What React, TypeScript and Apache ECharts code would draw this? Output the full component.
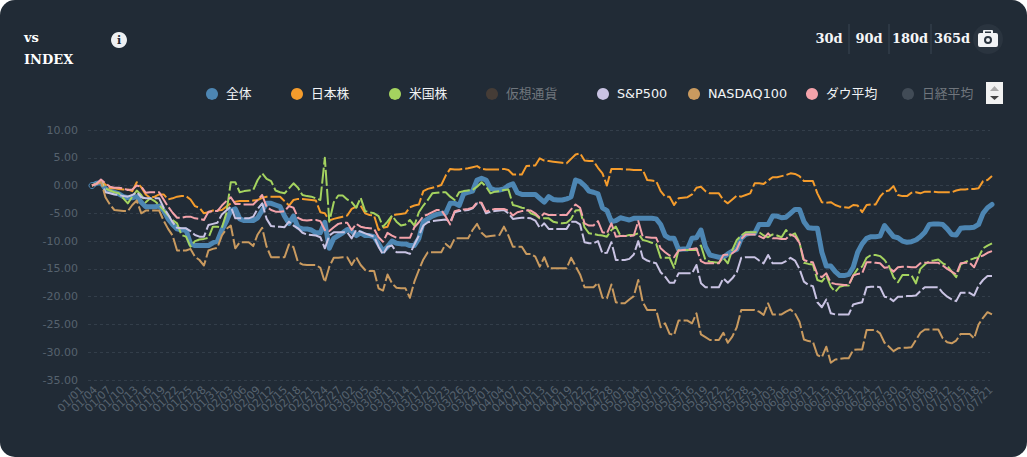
import React, { useEffect, useRef } from "react";
import * as echarts from "echarts";

const monthLengths = [["01", 31], ["02", 28], ["03", 31], ["04", 30], ["05", 31], ["06", 30], ["07", 21]] as const;
const categories: string[] = [];
for (const [m, n] of monthLengths) for (let d = 1; d <= n; d++) categories.push(`${m}/${String(d).padStart(2, "0")}`);
const tickLabels = categories.filter((_, i) => i % 3 === 0);

const zentai = [
  0, 0.4, 0.5, -0.6, -1, -1.2, -1.5, -2, -2.2, -2.2,
  -2, -3, -3.8, -3.8, -3.8, -3.7, -4.5, -6, -7, -7.8,
  -8, -8, -10.5, -10.8, -10.8, -10.8, -10.8, -10.3, -10, -8,
  -6.5, -4.5, -4.2, -6, -6.3, -6.3, -6.3, -5.8, -4.5, -3.2,
  -3.2, -3.5, -3.8, -5.5, -6.8, -5.5, -7.5, -7.8, -7.8, -8,
  -8.5, -8.5, -6.6, -11.3, -9.5, -9, -8.5, -7.9, -8.2, -9,
  -8.5, -9, -9, -9.2, -10.5, -11.8, -11, -10, -10.4, -10.5,
  -10.5, -10.8, -10.8, -9.5, -6.5, -6, -5.5, -5.2, -5, -5,
  -3.2, -3.2, -3.6, -1.5, -1.2, -1, 1, 1.3, 1, -0.5,
  -0.8, -0.8, -0.6, 0, 0.3, -1.3, -1.6, -1.6, -1.6, -1.6,
  -2.3, -3, -2, -2.5, -2.6, -2.6, -2.4, -2, 1, 0.7,
  0, -1, -1.2, -1.5, -4, -4.5, -6.5, -6.3, -5.8, -6,
  -6.2, -5.9, -5.9, -5.9, -5.9, -5.9, -6, -7, -9, -9.5,
  -9.5, -11.5, -11.4, -11.4, -9.5, -9.4, -8, -11, -12.5, -12.7,
  -12.9, -12.9, -12.3, -11.8, -11.5, -9.5, -8.8, -8.6, -8.6, -7,
  -7, -7, -5.5, -5.5, -5.8, -5.7, -5, -4.3, -4.3, -6.5,
  -7.6, -7.7, -7.7, -12, -14.5, -14.5, -15.5, -16.2, -16.2, -16,
  -14.7, -12, -10.5, -9.5, -9.2, -9.2, -9.1, -7.2, -8.2, -9.2,
  -9.4, -10, -10.2, -10.1, -9.8, -9.2, -8.4, -7, -6.9, -6.9,
  -7, -7.8, -8.8, -8.9, -7.7, -7.6, -7.6, -7.5, -7, -5,
  -4, -3.4,
];
const nihon = [
  0, 0.3, 0.6, 0.2, -0.5, -0.5, -0.6, -0.7, -0.7, -1,
  0.6, -0.3, -1.6, -2.2, -2, -1.6, -1.6, -2.5, -2.3, -2,
  -1.9, -1.9, -2.5, -3.7, -4, -5, -4.8, -4.5, -4.5, -4.4,
  -3.8, -3.2, -2.9, -2.8, -2.8, -2.8, -2.7, -2.6, -2.2, -2,
  -2, -2, -2, -2.8, -3.6, -2.6, -2.4, -2.4, -2.5, -2.6,
  -2.7, -4.8, -5, -6.3, -6, -5.8, -5.6, -5.4, -4.2, -3.8,
  -3.6, -5, -5.3, -5.4, -8, -7.6, -7.4, -5.4, -5.2, -5.1,
  -5, -3.9, -3.6, -3.4, -1, -0.6, -0.4, -0.2, 0.1, 1.8,
  3, 2.9, 2.9, 3, 3.1, 3.3, 3.5, 3, 2.9, 2.9,
  2.9, 2.9, 3, 2.8, 2, 2, 2, 3.5, 3.6, 3.6,
  4.9, 4.5, 4.4, 4.3, 4.2, 4.1, 4, 4.8, 5.6, 5.8,
  4.5, 4.4, 4.4, 3.2, 2.2, 0, 3, 3, 3, 2.9,
  2.9, 2.8, 2.8, 2.8, 1, 0.9, 0.8, -1, -2, -2,
  -3.5, -2.3, -2.2, -2.1, -1.6, -0.4, -0.2, -1, -1.4, -1.4,
  -1.4, -2.6, -3.2, -2.5, -1.8, -2, -1.7, -1.4, 0.4, 0.4,
  0.3, 0.9, 1.5, 1.5, 1.7, 1.9, 2.2, 2.1, 1.7, 0.8,
  0.8, 0.8, -1.4, -3, -3.1, -3, -3.5, -3.8, -3.9, -4,
  -3.5, -3.6, -4.8, -3.5, -3.4, -3.4, -2, -1.1, -0.9, -0.1,
  -1.7, -1.9, -1.9, -1.3, -1.2, -1.4, -1.1, -1.1, -1.1, -1.2,
  -1.2, -1.2, -1.2, -0.9, -0.7, -0.7, -0.6, -0.6, -0.5, 0.8,
  1, 1.7,
];
const beikoku = [
  0, 0.4, 0.8, -0.5, -0.9, -1.2, -1.4, -2.3, -3.2, -2,
  -0.9, -1.7, -3, -2.3, -2.8, -3.5, -4.4, -5.4, -6.2, -6.8,
  -8.9, -9.2, -11, -10, -9.7, -9.6, -9.4, -7.4, -7.4, -7.6,
  -5, 0.6, 0.6, -1.2, -1, -0.9, -0.8, 1, 2.2, 1.2,
  0.8, -0.9, -1.2, -1.4, -0.5, 0.4, -0.4, -1.7, -1.9, -2,
  -2.3, -2.6, 5, -6.5, -3, -1.8, -1.8, -2.5, -3, -4,
  -2.2, -4.6, -4.8, -5, -5.5, -7.4, -6.5, -5.4, -6.5, -7.2,
  -7, -6.2, -7.2, -4.8, -3.6, -2.6, -1.4, -1.3, -1.2, -1.2,
  -2, -2.6, -1.2, -1, -0.9, -0.8, -0.2, 0.6, -0.2, -1.4,
  -1.1, -1, -0.8, -0.7, -3.5, -3.7, -4, -4.1, -5, -5.3,
  -5.9, -5.9, -5.9, -6.5, -6.7, -6.8, -6.7, -6, -4.5, -4.4,
  -7.5, -8.6, -8.7, -8.9, -9, -9.2, -8, -7.4, -9, -9.1,
  -8.9, -8.9, -8.6, -9.8, -10, -10.3, -10.5, -13, -13, -13,
  -14.8, -11.6, -11.6, -11.6, -11.6, -11.6, -10.8, -13.4, -13.7, -13.8,
  -13.9, -13, -14, -11.6, -9.8, -9, -8.4, -8.4, -8.4, -8.4,
  -9, -9.3, -8.8, -9, -9.3, -8, -9, -8.6, -10.2, -13.9,
  -14.1, -14.2, -17, -17.3, -16.2, -18.2, -19.1, -18.2, -18, -18,
  -16.2, -15, -14.6, -13, -12.5, -12.5, -12.7, -13.4, -14.5, -16.5,
  -17.4, -16.1, -16.1, -16.1, -17.6, -15, -14.2, -13.6, -13.5, -13.3,
  -14, -14.4, -15.5, -16.5, -14.2, -13.8, -13.4, -13.1, -12.9, -11.3,
  -10.8, -10.4,
];
const sp500 = [
  0, 0.3, 0.9, -1.2, -1.4, -1.6, -1.7, -1.9, -2, -1.7,
  -1.2, -2.1, -2.3, -2.3, -2.3, -2.3, -4, -5.2, -6.6, -7.6,
  -7.7, -7.7, -8.2, -8.9, -9.2, -9.2, -7.1, -6.9, -6.7, -5.2,
  -4.5, -3.8, -5.9, -5.9, -5.9, -5.9, -5.6, -4.2, -3.2, -6,
  -7.3, -7.4, -7.4, -7.5, -6.5, -7.2, -7.7, -8.5, -8.8, -8.9,
  -9, -9.3, -11.3, -9, -8.4, -8.4, -8.4, -8.4, -9.5, -8,
  -8.3, -8.6, -8.9, -9.2, -11, -12.4, -11, -10.8, -12, -12,
  -12, -12.3, -10.6, -9, -7.2, -6.6, -6.4, -6.3, -6.2, -6.1,
  -6.5, -4.8, -4.6, -4.5, -4.4, -4.1, -3.2, -3.3, -5, -4.7,
  -4.6, -4.5, -4.4, -5, -6, -5.9, -5.8, -5.8, -5.9, -6.3,
  -7.6, -6.8, -7.8, -7.8, -7.8, -7.8, -7.8, -6.5, -6.5, -7,
  -10.2, -10.4, -10.4, -10, -12.2, -12.1, -10.2, -13.4, -13.4, -13.4,
  -13.2, -12.4, -10, -13, -13.5, -13.8, -14, -15.6, -16.4, -17.5,
  -17.5, -15.8, -15.8, -15.8, -15.8, -14.3, -17.6, -18.3, -18.3, -18.3,
  -18.3, -16.7, -17.5, -16.7, -15.6, -13, -12.9, -12.9, -12.9, -13.5,
  -14, -12.5, -14, -14, -14, -13.6, -13, -13.5, -15, -17.3,
  -17.9, -18.1, -21, -21.9, -20.5, -23, -23.2, -23.2, -23.2, -23.2,
  -21.4, -21.2, -21, -18.3, -18.2, -18.2, -18.3, -20, -20.2, -20.8,
  -20, -20, -19.9, -19.9, -19.8, -19, -18.3, -18.3, -18.3, -18.3,
  -19.3, -20, -20.5, -20.8, -19.3, -19.3, -19.3, -19.8, -18, -17,
  -16.3, -16.3,
];
const nasdaq100 = [
  0, 0.3, 0.8, -2.1, -3.4, -4.4, -4.5, -4.6, -4.6, -3.5,
  -2.7, -5, -4.5, -4.5, -4.5, -4.5, -6.3, -7.8, -9, -11.7,
  -11.7, -11.7, -11.4, -12.8, -13.4, -14.4, -11.7, -11.4, -11.2, -9,
  -7.8, -7.2, -11.3, -10.2, -10.2, -10.2, -10.9, -8.8, -7.6, -11,
  -12.9, -12.9, -12.9, -12.9, -10.6, -11.1, -13.8, -14.2, -14.3, -14.3,
  -14.3, -14.8, -17.4, -14.6, -13, -13, -12.9, -12.9, -14.3, -12.9,
  -14.3, -15.2, -15.4, -15.4, -18.5, -18.9, -16, -17.6, -18.4, -18.5,
  -18.5, -20.2, -17.3, -15.2, -13.3, -12, -12, -12, -12, -10.5,
  -11.2, -9.5, -9.5, -9.5, -9.5, -8, -6.9, -8.5, -9.2, -9.1,
  -9, -8.9, -7.4, -9, -11, -11, -11, -12.3, -12.3, -12.8,
  -14.6, -12.9, -14.9, -14.9, -14.9, -14.9, -14.9, -13, -14.5, -16,
  -18.3, -18.3, -18.3, -17.5, -20.2, -20.3, -17.8, -21, -21.2, -21.2,
  -20.5, -19.9, -17, -21, -22.4, -22.4, -22.4, -25.5, -24.8, -26.7,
  -26.9, -24.3, -24.3, -24.3, -24.8, -23, -26.8, -27.3, -27.8, -27.8,
  -27.8, -26.5, -28.3, -27.2, -25.5, -22.4, -22.4, -22.4, -22.4, -22.7,
  -23.3, -21.2, -23.2, -23.2, -23.2, -22.7, -22.3, -23, -24.5, -27.7,
  -28, -28.1, -30.5, -30.9, -29, -31.9, -31.3, -31.2, -31.1, -31.1,
  -29.6, -29.5, -29.5, -26, -26, -26, -26.6, -28.3, -29, -29.8,
  -29.3, -29.2, -29.2, -29.1, -27.8, -26.5, -25.9, -25.9, -25.9, -25.9,
  -27.5, -28.2, -28.4, -27.9, -26.7, -26.7, -26.7, -27.5, -25, -23.8,
  -22.8, -23.2,
];
const dow = [
  0, 0.3, 1.1, 0.4, -0.2, -0.4, -0.4, -0.5, -0.8, -0.7,
  0, -0.2, -1.3, -1.2, -1.2, -1.2, -2.5, -3.8, -4.9, -5.8,
  -5.8, -5.6, -5.6, -5.9, -6, -6.2, -4.7, -4.6, -4.6, -3.6,
  -2.8, -2.1, -3.3, -3.3, -3.4, -3.4, -3.4, -2.6, -1.7, -3.8,
  -4.4, -4.7, -4.7, -4.6, -3.7, -4, -5.8, -6.2, -6.3, -6.2,
  -6.2, -6.4, -8, -8.2, -7.5, -6.9, -6.7, -6.7, -8, -6.9,
  -7.4, -7.6, -7.7, -7.8, -9.3, -10.1, -8.5, -9, -9.4, -9.4,
  -9.4, -9.4, -7.5, -6.6, -5.5, -5.2, -4.8, -4.4, -4.4, -5.6,
  -7, -4.6, -4.4, -4.3, -4.2, -4, -3, -3.1, -4.7, -4.4,
  -4.2, -4.2, -4.2, -4.5, -5.4, -4.8, -4.6, -4.5, -4.5, -5,
  -5.8, -5, -5.3, -5.3, -5.3, -5.3, -5.3, -4.3, -3.4, -4,
  -6.8, -7.2, -7.2, -6.4, -8.4, -8.6, -6.8, -9.2, -9.1, -9.1,
  -9.1, -9, -6.4, -9.2, -9.3, -9.4, -9.4, -11.3, -12, -12.6,
  -12.9, -11.7, -11.6, -11.5, -11.4, -11.3, -13.6, -14, -14, -14,
  -14, -12.5, -12.4, -12.2, -11.5, -9.6, -8.8, -8.8, -8.8, -9.1,
  -9.5, -8.6, -9.5, -9.5, -9.6, -9.6, -8.8, -9.2, -10.3, -13.4,
  -13.7, -13.8, -16, -16.5, -15.8, -17.5, -17.7, -17.8, -17.9, -17.9,
  -16.2, -15.9, -15.8, -13.8, -13.8, -13.9, -14, -14.8, -14.7, -15.5,
  -14.7, -14.6, -14.6, -14.7, -14.7, -14, -13.9, -13.9, -13.9, -13.9,
  -14.4, -15, -15.5, -16, -14, -13.9, -13.9, -14.7, -12.9, -12.6,
  -12.1, -11.8,
];

const seriesNames = ["全体", "日本株", "米国株", "仮想通貨", "S&P500", "NASDAQ100", "ダウ平均", "日経平均"];
const seriesValues: number[][] = [zentai, nihon, beikoku, [], sp500, nasdaq100, dow, []];
const seriesColors = ["#4d86b3", "#f59c2c", "#a4d35f", "#453c36", "#c9c3e3", "#c99a5f", "#f4a2aa", "#414b56"];
const legendLefts = [201, 286, 384, 481, 592, 683, 801, 897];
const inactiveNames = ["仮想通貨", "日経平均"];
const rangeLabels = ["30d", "90d", "180d", "365d"];
const rangeCentres = [829, 869, 910, 952];
const separators = [849, 889, 931];

const BG = "#212b36";
const SANS = "'DejaVu Sans', 'Noto Sans CJK JP', sans-serif";
const SERIF = "'DejaVu Serif', serif";

echarts.graphic.registerShape(
  "cameraIcon",
  echarts.graphic.extendPath(
    "M6 0H14A1 1 0 0 1 15 1V3H18A2 2 0 0 1 20 5V15A2 2 0 0 1 18 17H2A2 2 0 0 1 0 15V5A2 2 0 0 1 2 3H5V1A1 1 0 0 1 6 0ZM10 6A4 4 0 1 0 10 14A4 4 0 1 0 10 6ZM10 8A2 2 0 1 1 10 12A2 2 0 1 1 10 8ZM7 1.5V3H13V1.5Z",
    {}
  )
);

export default function App() {
  const ref = useRef<HTMLDivElement>(null);
  useEffect(() => {
    document.body.style.margin = "0";
    document.body.style.background = "#ffffff";
    const chart = echarts.init(ref.current!, null, { renderer: "svg" });
    chart.setOption({
      animation: false,
      backgroundColor: "transparent",
      grid: [
        { left: 92, right: 35, top: 130, height: 250 },
        { left: 88, right: 37, top: 130, height: 250 },
        { left: 82, right: 36, top: 130, height: 250 },
      ],
      xAxis: [
        { gridIndex: 0, type: "category", data: categories, boundaryGap: false, show: false },
        { gridIndex: 1, type: "category", data: categories, boundaryGap: false, show: false },
        {
          gridIndex: 2,
          type: "category",
          data: tickLabels,
          boundaryGap: false,
          axisLine: { show: false },
          axisTick: { show: false },
          axisLabel: {
            interval: 0,
            rotate: 45,
            color: "#56626e",
            fontSize: 11,
            margin: 8,
            fontFamily: SANS,
          },
        },
      ],
      yAxis: [
        { gridIndex: 0, type: "value", min: -35, max: 10, interval: 5, show: false },
        {
          gridIndex: 1,
          type: "value",
          min: -35,
          max: 10,
          interval: 5,
          axisLine: { show: false },
          axisTick: { show: false },
          axisLabel: {
            color: "#56626e",
            fontSize: 11,
            margin: 10,
            fontFamily: SANS,
            padding: [0, 0, 2, 0],
            formatter: (v: number) => v.toFixed(2),
          },
          splitLine: { show: true, lineStyle: { color: "#333e4a", type: [3, 3], width: 1 } },
        },
        { gridIndex: 2, type: "value", min: -35, max: 10, interval: 5, show: false },
      ],
      legend: seriesNames.map((name, i) => ({
        data: [name],
        left: legendLefts[i],
        top: 82.5,
        icon: "circle",
        itemWidth: 12,
        itemHeight: 12,
        itemGap: 0,
        selectedMode: false,
        itemStyle: { color: seriesColors[i], borderWidth: 0 },
        textStyle: {
          color: inactiveNames.includes(name) ? "#70767d" : "#f2f4f6",
          fontSize: 12.8,
          fontFamily: SANS,
          padding: [0, 0, 4, 3],
        },
      })),
      series: seriesNames.map((name, i) => ({
        name,
        type: "line",
        xAxisIndex: 0,
        yAxisIndex: 0,
        data: seriesValues[i],
        smooth: false,
        showSymbol: i === 0,
        showAllSymbol: i === 0,
        symbol: "circle",
        symbolSize: (_v: number, p: { dataIndex: number }) => (i === 0 && p.dataIndex === 0 ? 6 : 0),
        itemStyle: i === 0 ? { color: BG, borderColor: seriesColors[0], borderWidth: 1 } : { color: seriesColors[i] },
        lineStyle: {
          color: seriesColors[i],
          width: i === 0 ? 5 : 2,
          type: i === 0 ? "solid" : [16, 3],
          cap: i === 0 ? "round" : "butt",
          join: "round",
        },
        z: i + 2,
      })),
      graphic: [
        { type: "text", left: 24, top: 31, style: { text: "vs", fill: "#ffffff", font: `bold 13px ${SERIF}` } },
        { type: "text", left: 24, top: 53, style: { text: "INDEX", fill: "#ffffff", font: `bold 13px ${SERIF}` } },
        { type: "circle", shape: { cx: 119, cy: 40, r: 8 }, style: { fill: "#eef0f2" } },
        {
          type: "text",
          x: 119,
          y: 40,
          style: { text: "i", fill: "#212b36", font: `bold 11px ${SERIF}`, align: "center", verticalAlign: "middle" },
        },
        ...rangeLabels.map((text, i) => ({
          type: "text",
          x: rangeCentres[i],
          y: 38,
          style: { text, fill: "#f5f6f7", font: `bold 13px ${SERIF}`, align: "center", verticalAlign: "middle" },
        })),
        ...separators.map((x) => ({
          type: "line",
          shape: { x1: x, y1: 24, x2: x, y2: 54 },
          style: { stroke: "#3b4652", lineWidth: 1 },
        })),
        { type: "circle", shape: { cx: 988, cy: 39, r: 15 }, style: { fill: "#2a343f" } },
        { type: "cameraIcon", x: 978, y: 30, style: { fill: "#f2f3f5" } },
        { type: "rect", shape: { x: 986, y: 82, width: 17, height: 22 }, style: { fill: "#f2f2f2" } },
        { type: "polygon", shape: { points: [[994.5, 86], [990, 91], [999, 91]] }, style: { fill: "#aaaaaa" } },
        { type: "polygon", shape: { points: [[994.5, 100], [990, 96], [999, 96]] }, style: { fill: "#444444" } },
      ],
    });
    return () => chart.dispose();
  }, []);
  return (
    <div style={{ width: 1027, height: 457, background: BG, borderRadius: 15, overflow: "hidden" }}>
      <div ref={ref} style={{ width: 1027, height: 457 }} />
    </div>
  );
}
